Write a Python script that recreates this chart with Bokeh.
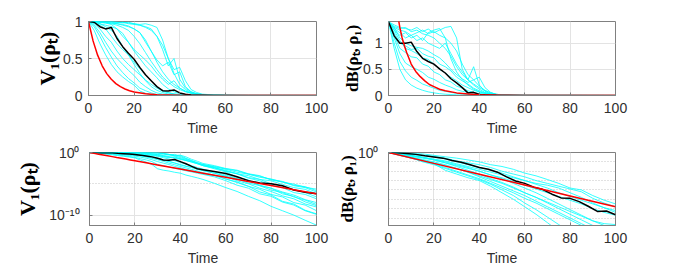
from bokeh.plotting import figure
from bokeh.layouts import column, row, Spacer
from bokeh.models import Range1d, FixedTicker, CustomJSTickFormatter
from bokeh.embed import file_html
from bokeh.resources import INLINE

# ---------------- data: V1 (left column, same data for linear and log panels) -------------
T_V = [0, 2.5, 5, 7.5, 10, 12.5, 15, 17.5, 20, 22.5, 25, 27.5, 30, 32.5, 35, 37.5, 40, 42.5, 45, 47.5, 50,
       55, 60, 65, 70, 75, 80, 85, 90, 95, 100]

V1_A = [1, 1, 1, 0.99, 1, 0.99, 0.98, 0.99, 0.97, 0.96, 0.97, 0.95, 0.92, 0.75, 0.5, 0.3, 0.15, 0.08, 0.04, 0.02, 0.012,
        5e-3, 2.2e-3, 7e-4, 3.5e-4, 1.1e-4, 6e-5, 1.8e-5, 9e-6, 2.8e-6, 1.4e-6]
V1_B = [1, 1, 0.99, 1, 0.99, 0.98, 0.99, 0.97, 0.96, 0.95, 0.93, 0.9, 0.8, 0.62, 0.4, 0.5, 0.22, 0.1, 0.05, 0.025, 0.012,
        6e-3, 2.5e-3, 1.2e-3, 3.5e-4, 1.6e-4, 5e-5, 2.4e-5, 6e-6, 3.5e-6, 8e-7]
V1_C = [1, 1, 0.99, 0.99, 0.98, 0.97, 0.96, 0.94, 0.9, 0.85, 0.72, 0.6, 0.48, 0.4, 0.45, 0.28, 0.32, 0.12, 0.05, 0.02, 0.008,
        3.2e-3, 1.5e-3, 4e-4, 2e-4, 5e-5, 3e-5, 8e-6, 2.5e-6, 1.3e-6, 2.5e-7]
V1_D = [1, 1, 0.99, 0.98, 0.97, 0.95, 0.92, 0.88, 0.8, 0.7, 0.58, 0.46, 0.35, 0.25, 0.18, 0.12, 0.08, 0.05, 0.03, 0.016, 0.008,
        3.8e-3, 1e-3, 4e-4, 1e-4, 5e-5, 1e-5, 4e-6, 1.1e-6, 4e-7, 8e-8]
V1_E = [1, 0.99, 0.97, 0.95, 0.93, 0.9, 0.84, 0.72, 0.6, 0.5, 0.4, 0.32, 0.24, 0.15, 0.09, 0.05, 0.025, 0.014, 0.008, 0.004, 0.0022,
        8e-4, 2.5e-4, 8e-5, 2.5e-5, 6e-6, 2e-6, 5e-7, 1.6e-7, 3e-8, 1e-8]
V1_F = [1, 0.98, 0.95, 0.9, 0.8, 0.7, 0.62, 0.55, 0.45, 0.36, 0.28, 0.2, 0.12, 0.07, 0.04, 0.022, 0.012, 0.007, 0.004, 0.0022, 0.0013,
        5e-4, 1.6e-4, 6e-5, 1.3e-5, 5e-6, 1e-6, 4e-7, 8e-8, 2.5e-8, 5e-9]
V1_G = [1, 0.97, 0.9, 0.8, 0.72, 0.6, 0.5, 0.42, 0.35, 0.28, 0.21, 0.15, 0.1, 0.06, 0.035, 0.02, 0.01, 0.006, 0.004, 0.0022, 0.0013,
        5e-4, 1.6e-4, 3e-5, 1e-5, 2e-6, 6e-7, 1.2e-7, 4e-8, 6e-9, 2e-9]
V1_H = [1, 0.95, 0.85, 0.72, 0.6, 0.5, 0.42, 0.34, 0.27, 0.18, 0.12, 0.07, 0.035, 0.02, 0.012, 0.006, 0.0035, 0.002, 0.0012, 7e-4, 4e-4,
        2e-4, 6e-5, 2e-5, 4e-6, 1.3e-6, 2e-7, 8e-8, 1e-8, 4e-9, 5e-10]
V1_I = [1, 0.93, 0.8, 0.65, 0.52, 0.4, 0.31, 0.23, 0.17, 0.1, 0.065, 0.035, 0.0126, 0.008, 0.005, 0.003, 0.002, 0.0012, 8e-4, 5e-4, 3.2e-4,
        1.3e-4, 3.2e-5, 6e-6, 2e-6, 2.5e-7, 1e-7, 1.2e-8, 4e-9, 5e-10, 1.3e-10]
V1_J = [1, 0.88, 0.7, 0.55, 0.42, 0.32, 0.25, 0.19, 0.14, 0.06, 0.03, 0.012, 0.0025, 0.0015, 1.1e-3, 7e-4, 5e-4, 2.5e-4, 1.5e-4, 9e-5, 5e-5,
        1.2e-5, 2.5e-6, 6e-7, 1e-7, 2e-8, 2.5e-9, 5e-10, 1e-10, 1.5e-11, 2.5e-12]
V1_K = [1, 1, 1, 0.99, 0.98, 0.97, 0.95, 0.93, 0.9, 0.85, 0.75, 0.6, 0.45, 0.32, 0.22, 0.15, 0.1, 0.06, 0.035, 0.02, 0.011,
        4e-3, 1.1e-3, 4e-4, 8e-5, 3e-5, 6e-6, 2.5e-6, 4e-7, 2e-7, 4e-8]
V1_L = [1, 1, 0.99, 0.98, 0.96, 0.9, 0.8, 0.72, 0.62, 0.55, 0.48, 0.4, 0.3, 0.22, 0.15, 0.2, 0.1, 0.055, 0.03, 0.016, 0.008,
        2.5e-3, 8e-4, 1.1e-4, 4e-5, 5e-6, 2e-6, 2.5e-7, 1e-7, 1.3e-8, 3.2e-9]
V1_M = [1, 1, 1, 1, 1, 0.99, 0.99, 0.98, 0.97, 0.95, 0.92, 0.88, 0.8, 0.68, 0.5, 0.35, 0.38, 0.2, 0.08, 0.04, 0.018,
        8e-3, 2.8e-3, 1.5e-3, 4e-4, 2e-4, 4e-5, 2e-5, 5e-6, 2.4e-6, 5e-7]
V1_N = [1, 0.99, 0.97, 0.93, 0.88, 0.8, 0.66, 0.55, 0.42, 0.3, 0.2, 0.12, 0.07, 0.04, 0.02, 0.011, 0.006, 0.0035, 0.002, 0.0011, 6e-4,
        2.5e-4, 6e-5, 1.6e-5, 4e-6, 5e-7, 1.6e-7, 1.6e-8, 6e-9, 6e-10, 1.6e-10]

V1_MEAN = [1, 0.99, 0.93, 0.9, 0.92, 0.77, 0.66, 0.57, 0.49, 0.38, 0.28, 0.2, 0.12, 0.065, 0.06, 0.075, 0.035, 0.016, 6e-3, 2.5e-3, 1.8e-3,
           9e-4, 4.5e-4, 1.3e-4, 3.2e-5, 1.4e-5, 1e-5, 5e-6, 1e-6, 4.5e-7, 2.5e-7]

T_V_BOUND = [0, 2, 4, 6, 8, 10, 12, 14, 16, 18, 20, 25, 30, 40, 50, 60, 70, 80, 90, 100]
V1_BOUND = [1, 0.738, 0.545, 0.402, 0.296, 0.219, 0.161, 0.119, 0.0879, 0.0649, 0.0479, 0.0224, 0.0105,
            2.29e-3, 5.0e-4, 1.1e-4, 2.4e-5, 5.2e-6, 1.15e-6, 2.5e-7]

# ---------------- data: dB, linear panel (top right) ----------------
T_DL = [0, 2.5, 5, 7.5, 10, 12.5, 15, 17.5, 20, 22.5, 25, 27.5, 30, 32.5, 35, 37.5, 40, 42.5, 45, 47.5, 50, 55, 60, 100]

DL_1 = [1.41, 1.35, 1.3, 1.28, 1.25, 1.3, 1.22, 1.27, 1.2, 1.25, 1.3, 1.32, 1.1, 0.5, 0.3, 0.55, 0.2, 0.08, 0.03, 0.01, 0.005, 0.002, 0.001, 0]
DL_2 = [1.41, 1.3, 1.25, 1.22, 1.15, 1.2, 1.25, 1.18, 1.22, 1.15, 1.1, 1.0, 0.85, 0.6, 0.4, 0.3, 0.35, 0.15, 0.06, 0.02, 0.01, 0.003, 0.001, 0]
DL_3 = [1.41, 1.28, 1.2, 1.1, 1.15, 1.05, 1.1, 1.0, 0.95, 0.9, 1.0, 0.8, 0.6, 0.45, 0.3, 0.2, 0.12, 0.06, 0.03, 0.015, 0.006, 0.002, 0.001, 0]
DL_4 = [1.41, 1.25, 1.15, 1.2, 1.1, 1.15, 1.05, 1.2, 1.25, 1.28, 1.1, 0.7, 0.45, 0.3, 0.2, 0.12, 0.07, 0.04, 0.02, 0.01, 0.005, 0.002, 0.001, 0]
DL_5 = [1.41, 1.2, 1.0, 0.95, 0.88, 0.9, 0.8, 0.75, 0.72, 0.6, 0.55, 0.47, 0.35, 0.28, 0.22, 0.14, 0.09, 0.05, 0.03, 0.015, 0.007, 0.003, 0.001, 0]
DL_6 = [1.41, 1.15, 0.9, 0.82, 0.74, 0.72, 0.6, 0.56, 0.45, 0.4, 0.3, 0.26, 0.18, 0.14, 0.09, 0.06, 0.04, 0.025, 0.015, 0.008, 0.004, 0.002, 0.001, 0]
DL_7 = [1.41, 1.1, 0.8, 0.62, 0.55, 0.5, 0.44, 0.35, 0.31, 0.25, 0.2, 0.16, 0.11, 0.08, 0.06, 0.04, 0.03, 0.02, 0.01, 0.006, 0.003, 0.001, 0, 0]
DL_8 = [1.41, 1.0, 0.65, 0.47, 0.35, 0.29, 0.22, 0.18, 0.14, 0.1, 0.08, 0.06, 0.04, 0.03, 0.02, 0.014, 0.01, 0.007, 0.004, 0.002, 0.001, 0, 0, 0]
DL_9 = [1.41, 0.9, 0.5, 0.3, 0.2, 0.14, 0.1, 0.07, 0.05, 0.035, 0.025, 0.018, 0.012, 0.008, 0.005, 0.003, 0.002, 0.001, 0, 0, 0, 0, 0, 0]
DL_10 = [1.41, 1.32, 1.28, 1.3, 1.22, 1.25, 1.18, 1.15, 1.1, 1.0, 0.9, 0.75, 0.55, 0.4, 0.3, 0.22, 0.15, 0.09, 0.05, 0.025, 0.01, 0.004, 0.001, 0]
DL_11 = [1.41, 1.3, 1.1, 1.0, 0.95, 0.92, 0.9, 0.85, 0.78, 0.72, 0.62, 0.5, 0.4, 0.32, 0.25, 0.3, 0.18, 0.1, 0.05, 0.025, 0.01, 0.004, 0.001, 0]
DL_12 = [1.41, 1.25, 1.05, 0.9, 0.86, 0.8, 0.72, 0.69, 0.6, 0.5, 0.43, 0.35, 0.28, 0.2, 0.15, 0.1, 0.07, 0.04, 0.02, 0.01, 0.005, 0.002, 0.001, 0]

DL_MEAN = [1.41, 1.14, 1.0, 1.0, 1.02, 0.84, 0.71, 0.65, 0.6, 0.51, 0.43, 0.32, 0.24, 0.15, 0.05, 0.06, 0.02, 0.012, 0.006, 0.003, 0.002, 0.001, 0, 0]

T_DL_BOUND = [4, 5, 6, 7, 8, 9, 10, 12, 14, 16, 18, 20, 22.5, 25, 30, 35, 40, 50, 60, 100]
DL_BOUND = [1.55, 1.3, 1.1, 0.95, 0.82, 0.71, 0.6, 0.46, 0.36, 0.28, 0.21, 0.17, 0.12, 0.09, 0.05, 0.027, 0.015, 0.005, 0.0015, 0]

# ---------------- data: dB, log panel (bottom right) ----------------
T_DG = [0, 5, 10, 15, 20, 25, 30, 35, 40, 45, 50, 55, 60, 65, 70, 75, 80, 85, 90, 95, 100]

DG_1 = [1, 0.89, 0.79, 0.71, 0.5, 0.35, 0.25, 0.16, 0.1, 0.05, 0.032, 0.016, 6.3e-3, 3.2e-3, 1.3e-3, 5e-4, 1.6e-4, 1e-4, 2.5e-5, 8e-6, 3.2e-6]
DG_2 = [1, 0.79, 0.63, 0.5, 0.4, 0.25, 0.126, 0.079, 0.05, 0.025, 0.01, 5e-3, 2.5e-3, 1e-3, 5e-4, 2.5e-4, 1.26e-4, 6.3e-5, 1.26e-5, 4e-6, 1.6e-6]
DG_3 = [1, 0.79, 0.5, 0.32, 0.2, 0.126, 0.063, 0.032, 0.016, 7.9e-3, 4e-3, 2e-3, 1e-3, 5e-4, 3.2e-4, 1.6e-4, 5e-5, 1.6e-5, 4e-6, 1.26e-6, 6.3e-7]
DG_4 = [1, 0.63, 0.4, 0.25, 0.16, 0.079, 0.04, 0.02, 0.01, 4e-3, 2e-3, 7.9e-4, 3.2e-4, 1.26e-4, 5e-5, 2e-5, 7.9e-6, 3.2e-6, 1e-6, 4e-7, 2e-7]
DG_5 = [1, 0.63, 0.32, 0.16, 0.079, 0.04, 0.02, 7.9e-3, 3.2e-3, 1.26e-3, 5e-4, 1.6e-4, 5e-5, 1.6e-5, 5e-6, 1.6e-6, 5e-7, 1.6e-7, 5e-8, 2.5e-8, 2e-8]
DG_6 = [1, 0.5, 0.25, 0.126, 0.063, 0.025, 0.01, 4e-3, 1.6e-3, 5e-4, 1.6e-4, 5e-5, 1.26e-5, 4e-6, 1e-6, 2.5e-7, 6.3e-8, 1.6e-8, 4e-9, 1e-9, 2.5e-10]
DG_7 = [1, 0.5, 0.28, 0.1, 0.05, 0.02, 7.9e-3, 3.2e-3, 1.26e-3, 4e-4, 1e-4, 2.5e-5, 4e-6, 7.9e-7, 1.26e-7, 2e-8, 3.2e-9, 5e-10, 1e-10, 2e-11, 4e-12]
DG_8 = [1, 0.79, 0.5, 0.32, 0.16, 0.079, 0.032, 0.0126, 5e-3, 1.6e-3, 6.3e-4, 2e-4, 5e-5, 1.6e-5, 4e-6, 1e-6, 2.5e-7, 6.3e-8, 1.6e-8, 5e-9, 1.26e-9]
DG_9 = [1, 0.5, 0.25, 0.126, 0.063, 0.0126, 5e-3, 2e-3, 1e-3, 2.5e-4, 5e-5, 1e-5, 1.6e-6, 2.5e-7, 3.2e-8, 4e-9, 6.3e-10, 1e-10, 1.6e-11, 3.2e-12, 1e-12]
DG_10 = [1, 0.89, 0.71, 0.5, 0.32, 0.2, 0.1, 0.05, 0.025, 0.0126, 6.3e-3, 2.5e-3, 1e-3, 4e-4, 1.6e-4, 5e-5, 2e-5, 7.9e-6, 3.2e-6, 1.26e-6, 4e-7]
DG_11 = [1, 0.71, 0.45, 0.28, 0.18, 0.1, 0.05, 0.025, 0.01, 4e-3, 1.6e-3, 5e-4, 1.6e-4, 5e-5, 1.26e-5, 3.2e-6, 7.9e-7, 2e-7, 5e-8, 1.6e-8, 5e-9]
DG_12 = [1, 0.56, 0.32, 0.18, 0.1, 0.05, 0.02, 7.9e-3, 2.5e-3, 7.9e-4, 2.5e-4, 7.9e-5, 2.5e-5, 6.3e-6, 1.6e-6, 4e-7, 1e-7, 2.5e-8, 6.3e-9, 1.6e-9, 3.2e-10]

T_DG_MEAN = [0, 4, 8, 12, 16, 20, 24, 28, 32, 36, 40, 44, 48, 52, 56, 60, 64, 68, 72, 76, 80, 84, 88, 92, 96, 100]
DG_MEAN = [1, 0.93, 0.79, 0.63, 0.44, 0.34, 0.25, 0.14, 0.089, 0.05, 0.025, 0.016, 7.9e-3, 2.5e-3, 8.9e-4, 5e-4, 2e-4,
           1.1e-4, 3.5e-5, 1.4e-5, 1.26e-5, 5.6e-6, 1.8e-6, 5e-7, 5.6e-7, 2.2e-7]

T_DG_BOUND = [0, 20, 40, 60, 80, 100]
DG_BOUND = [1, 0.069, 4.8e-3, 3.3e-4, 2.3e-5, 1.6e-6]

X_TICKS = [0, 20, 40, 60, 80, 100]
LIN_Y_TICKS = [0, 0.5, 1]
V1_LOG_TICKS = [1e-10, 1]
V1_LOG_MINOR = [1e-5]
DB_LOG_TICKS = [1]
DB_LOG_MINOR = [1e-1, 1e-2, 1e-3, 1e-4, 1e-5, 1e-6, 1e-7]

V1_CYAN = [V1_A, V1_B, V1_C, V1_D, V1_E, V1_F, V1_G, V1_H, V1_I, V1_J, V1_K, V1_L, V1_M, V1_N]
DL_CYAN = [DL_1, DL_2, DL_3, DL_4, DL_5, DL_6, DL_7, DL_8, DL_9, DL_10, DL_11, DL_12]
DG_CYAN = [DG_1, DG_2, DG_3, DG_4, DG_5, DG_6, DG_7, DG_8, DG_9, DG_10, DG_11, DG_12]

# ---------------- styling helpers ----------------
AX = "#808080"
TXT = "#303030"
TICK_FONT = "Liberation Sans"
LABEL_FONT = "Liberation Serif"

lin_fmt = CustomJSTickFormatter(code="return tick.toString();")
log_fmt = CustomJSTickFormatter(code="""
const sup = {"-": "\u207b", "0": "\u2070", "1": "\u00b9", "2": "\u00b2", "3": "\u00b3", "4": "\u2074",
             "5": "\u2075", "6": "\u2076", "7": "\u2077", "8": "\u2078", "9": "\u2079"};
const e = Math.round(Math.log10(tick));
return "10" + String(e).split("").map(c => sup[c]).join("");
""")


def make_fig(width, height, left, right, top, bottom, y_type, y_range, ylabel, label_size, label_standoff,
             y_ticks, y_minor=None):
    p = figure(width=width, height=height, output_backend="svg", toolbar_location=None,
               x_range=Range1d(0, 100), y_range=y_range, y_axis_type=y_type,
               min_border_left=left, min_border_right=right, min_border_top=top, min_border_bottom=bottom,
               background_fill_color="white", border_fill_color="white")
    p.outline_line_color = AX
    p.outline_line_width = 1
    p.xaxis.ticker = FixedTicker(ticks=X_TICKS)
    p.xaxis.formatter = lin_fmt
    if y_minor is not None:
        p.yaxis.ticker = FixedTicker(ticks=y_ticks, minor_ticks=y_minor)
        p.yaxis.formatter = log_fmt
        p.ygrid.minor_grid_line_color = "#c4c4c4"
        p.ygrid.minor_grid_line_dash = "1 2"
    else:
        p.yaxis.ticker = FixedTicker(ticks=y_ticks)
        p.yaxis.formatter = lin_fmt
    for ax in (p.xaxis, p.yaxis):
        ax.axis_line_color = AX
        ax.major_tick_line_color = AX
        ax.major_tick_in = 3
        ax.major_tick_out = 0
        ax.minor_tick_line_color = None
        ax.major_label_text_font = TICK_FONT
        ax.major_label_text_font_size = "14px"
        ax.major_label_text_color = TXT
        ax.major_label_standoff = 6
    p.xaxis.major_label_standoff = 7
    p.xaxis.axis_label = "Time"
    p.xaxis.axis_label_text_font = TICK_FONT
    p.xaxis.axis_label_text_font_size = "14px"
    p.xaxis.axis_label_text_font_style = "normal"
    p.xaxis.axis_label_text_color = TXT
    p.xaxis.axis_label_standoff = 4
    p.yaxis.axis_label = ylabel
    p.yaxis.axis_label_text_font = LABEL_FONT
    p.yaxis.axis_label_text_font_size = label_size
    p.yaxis.axis_label_text_font_style = "bold"
    p.yaxis.axis_label_text_color = "black"
    p.yaxis.axis_label_standoff = label_standoff
    p.grid.grid_line_color = "#e3e3e3"
    return p


def draw(p, t, cyan, t_mean, mean, t_bound, bound):
    for c in cyan:
        p.line(t, c, line_color="#00ffff", line_width=0.8)
    p.line(t_mean, mean, line_color="black", line_width=1.5)
    p.line(t_bound, bound, line_color="red", line_width=1.5)


V1_LABEL = "V\u2081(\u03c1\u209c)"
DB_LABEL = "dB(\u03c1\u209c,\u2009\u03c1\u2081)"

p1 = make_fig(301, 138, 56, 17, 21, 41, "linear", Range1d(0, 1), V1_LABEL, "22px", 0, LIN_Y_TICKS)
draw(p1, T_V, V1_CYAN, T_V, V1_MEAN, T_V_BOUND, V1_BOUND)

p2 = make_fig(312, 138, 55, 30, 21, 41, "linear", Range1d(0, 1.414), DB_LABEL, "17px", -2, LIN_Y_TICKS)
draw(p2, T_DL, DL_CYAN, T_DL, DL_MEAN, T_DL_BOUND, DL_BOUND)

p3 = make_fig(321, 130, 76, 17, 14, 41, "log", Range1d(10 ** -11.66, 1), V1_LABEL, "22px", 6, V1_LOG_TICKS, V1_LOG_MINOR)
draw(p3, T_V, V1_CYAN, T_V, V1_MEAN, T_V_BOUND, V1_BOUND)

p4 = make_fig(312, 130, 55, 30, 14, 41, "log", Range1d(10 ** -7.8, 1), DB_LABEL, "17px", -2, DB_LOG_TICKS, DB_LOG_MINOR)
draw(p4, T_DG, DG_CYAN, T_DG_MEAN, DG_MEAN, T_DG_BOUND, DG_BOUND)

layout = column(row(Spacer(width=32, height=138), p1, p2),
                row(Spacer(width=12, height=130), p3, p4))
open("out.html", "w").write(file_html(layout, INLINE))
